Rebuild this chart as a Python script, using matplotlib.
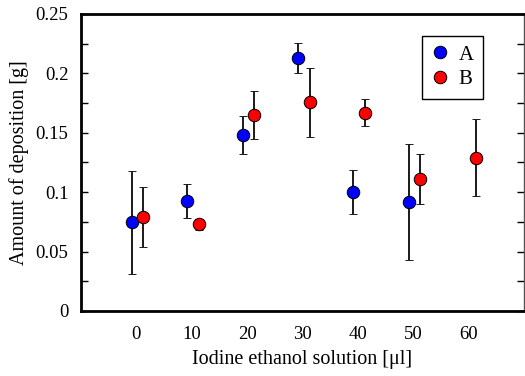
import numpy as np
import matplotlib
matplotlib.use('Agg')
import matplotlib.pyplot as plt
from matplotlib.ticker import MultipleLocator, FuncFormatter
from matplotlib.lines import Line2D

plt.rcParams['font.family'] = ['Liberation Serif', 'DejaVu Serif']

# iodine ethanol solution volumes [ul]
vol_a = [0, 10, 20, 30, 40, 50]
vol_b = [0, 10, 20, 30, 40, 50, 60]

# amount of deposition [g] with error (+/-)
dep_a = [0.0745, 0.0925, 0.148, 0.213, 0.1005, 0.0915]
err_a = [0.0435, 0.0145, 0.0157, 0.0125, 0.0185, 0.049]
dep_b = [0.079, 0.073, 0.1647, 0.1757, 0.167, 0.1114, 0.129]
err_b = [0.025, 0.0045, 0.020, 0.029, 0.011, 0.021, 0.0325]

shift_a = -0.8  # small side shift so the bars don't overlap
shift_b = 1.3

fig = plt.figure(figsize=(5.25, 3.76), dpi=100)
ax = fig.add_axes([0.154, 0.173, 0.844, 0.790])

ax.errorbar(np.array(vol_a) + shift_a, dep_a, yerr=err_a, fmt='o', color='blue',
            mec='black', mew=0.7, ms=9, ecolor='#1a1a1a', elinewidth=1.4,
            capsize=3, capthick=1.4, zorder=3)
ax.errorbar(np.array(vol_b) + shift_b, dep_b, yerr=err_b, fmt='o', color='red',
            mec='black', mew=0.7, ms=9, ecolor='#1a1a1a', elinewidth=1.4,
            capsize=3, capthick=1.4, zorder=3)

ax.set_xlim(-10, 70)
ax.set_ylim(0, 0.25)
ax.set_xticks([0, 10, 20, 30, 40, 50, 60])
ax.yaxis.set_major_locator(MultipleLocator(0.05))
ax.yaxis.set_minor_locator(MultipleLocator(0.025))
ax.yaxis.set_major_formatter(FuncFormatter(lambda v, p: '%g' % round(v, 3)))

ax.tick_params(axis='x', length=0, pad=11, labelsize=13.5)
ax.tick_params(axis='y', which='both', direction='in', length=5, width=1,
               right=True, pad=9, labelsize=13.5)

for s in ['left', 'top', 'bottom']:
    ax.spines[s].set_linewidth(2)
ax.spines['right'].set_linewidth(1)
ax.spines['right'].set_color('#555555')

ax.set_xlabel('Iodine ethanol solution [μl]', fontsize=14.5, labelpad=5)
ax.set_ylabel('Amount of deposition [g]', fontsize=14.5, labelpad=5)

handles = [Line2D([], [], ls='none', marker='o', color='blue', mec='black', mew=0.7, ms=9),
           Line2D([], [], ls='none', marker='o', color='red', mec='black', mew=0.7, ms=9)]
leg = ax.legend(handles, ['A', 'B'], loc='upper right', bbox_to_anchor=(0.908, 0.927),
                borderaxespad=0, fontsize=15, fancybox=False, framealpha=1,
                edgecolor='black', handletextpad=0.5, borderpad=0.45,
                labelspacing=0.25, handlelength=0.8)
leg.get_frame().set_linewidth(1)

plt.savefig('out.png', dpi=100)
